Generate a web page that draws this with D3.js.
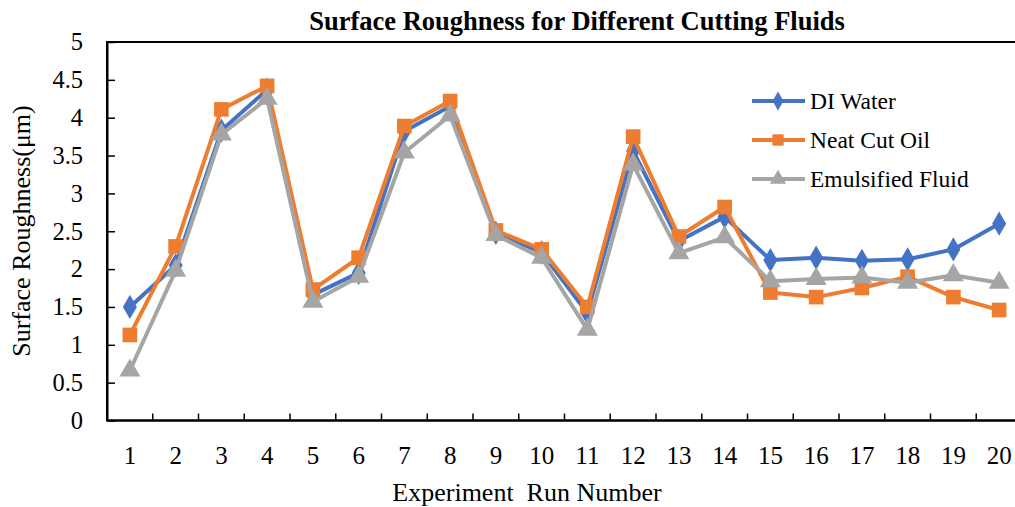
<!DOCTYPE html>
<html>
<head>
<meta charset="utf-8">
<script src="https://cdn.jsdelivr.net/npm/d3@7"></script>
<style>
  html, body { margin: 0; padding: 0; background: #fff; }
  svg { display: block; font-family: "Liberation Serif", "Times New Roman", serif; }
</style>
</head>
<body>
<svg id="chart" width="1015" height="507"></svg>
<script>
// Experiment runs 1..20
const runs = d3.range(1, 21).map(String);

// Surface roughness (µm) per cutting fluid
const diWater    = [1.50, 2.05, 3.83, 4.37, 1.66, 1.95, 3.82, 4.15, 2.48, 2.22, 1.42, 3.56, 2.37, 2.69, 2.12, 2.15, 2.11, 2.13, 2.26, 2.60];
const neatCutOil = [1.13, 2.30, 4.11, 4.42, 1.73, 2.15, 3.89, 4.22, 2.51, 2.26, 1.50, 3.75, 2.43, 2.82, 1.69, 1.63, 1.75, 1.90, 1.63, 1.46];
const emulsified = [0.66, 1.98, 3.78, 4.25, 1.57, 1.90, 3.54, 4.03, 2.45, 2.15, 1.20, 3.38, 2.21, 2.42, 1.84, 1.87, 1.89, 1.82, 1.92, 1.82];

const seriesNames = ["DI Water", "Neat Cut Oil", "Emulsified Fluid"];
const yTicks = [0, 0.5, 1, 1.5, 2, 2.5, 3, 3.5, 4, 4.5, 5];
const yTickLabels = ["0", "0.5", "1", "1.5", "2", "2.5", "3", "3.5", "4", "4.5", "5"];

const series = [
  { name: seriesNames[0], values: diWater,    color: "#4472C4", symbol: d3.symbolDiamond,  size: 170 },
  { name: seriesNames[1], values: neatCutOil, color: "#ED7D31", symbol: d3.symbolSquare,   size: 215 },
  { name: seriesNames[2], values: emulsified, color: "#A5A5A5", symbol: d3.symbolTriangle, size: 190 }
];

const svg = d3.select("#chart");
const plot = { left: 107, top: 42, right: 1022, bottom: 420.5 };

const x = d3.scaleBand().domain(runs).range([plot.left, plot.right]);
const y = d3.scaleLinear().domain([0, 5]).range([plot.bottom, plot.top]);

// Title
svg.append("text")
  .attr("x", 577).attr("y", 30)
  .attr("text-anchor", "middle")
  .attr("font-weight", "bold")
  .attr("font-size", 26.5)
  .text("Surface Roughness for Different Cutting Fluids");

// Plot frame (top edge runs off the right side)
svg.append("rect")
  .attr("x", plot.left).attr("y", plot.top)
  .attr("width", plot.right - plot.left).attr("height", plot.bottom - plot.top)
  .attr("fill", "none").attr("stroke", "#000").attr("stroke-width", 2);

// Y axis: ticks point inward
const yAxis = d3.axisLeft(y).tickValues(yTicks)
  .tickFormat((d, i) => yTickLabels[i]).tickSizeInner(-8).tickSizeOuter(0).tickPadding(24);
const gy = svg.append("g").attr("transform", `translate(${plot.left},0)`).call(yAxis);
gy.select(".domain").attr("stroke-width", 2);
gy.selectAll(".tick line").attr("stroke-width", 1.5);
gy.selectAll(".tick text").attr("font-size", 24.5).attr("font-family", "Liberation Serif").attr("fill", "#000");

// X axis: ticks between categories, pointing inward
const boundaries = runs.slice(1).map(r => x(r));
const gx = svg.append("g").attr("transform", `translate(0,${plot.bottom})`);
gx.append("line").attr("x1", plot.left).attr("x2", plot.right)
  .attr("stroke", "#000").attr("stroke-width", 2);
gx.selectAll("line.tk").data(boundaries).join("line").attr("class", "tk")
  .attr("x1", d => d).attr("x2", d => d).attr("y1", 0).attr("y2", -7)
  .attr("stroke", "#000").attr("stroke-width", 1.5);
gx.selectAll("text").data(runs).join("text")
  .attr("x", d => x(d) + x.bandwidth() / 2).attr("y", 43)
  .attr("text-anchor", "middle").attr("font-size", 25)
  .text(d => d);

// Axis titles
svg.append("text")
  .attr("x", 527).attr("y", 501)
  .attr("text-anchor", "middle").attr("font-size", 26)
  .text("Experiment  Run Number").attr("xml:space", "preserve").style("white-space", "pre");
svg.append("text")
  .attr("transform", "translate(30,231) rotate(-90)")
  .attr("text-anchor", "middle").attr("font-size", 26)
  .text("Surface Roughness(μm)");

// Series lines and markers
const cx = d => x(d) + x.bandwidth() / 2;
const line = d3.line().x((v, i) => cx(runs[i])).y(v => y(v));

series.forEach(s => {
  const g = svg.append("g");
  g.append("path").datum(s.values)
    .attr("d", line).attr("fill", "none")
    .attr("stroke", s.color).attr("stroke-width", 4).attr("stroke-linejoin", "round");
  g.selectAll("path.m").data(s.values).join("path").attr("class", "m")
    .attr("transform", (v, i) => `translate(${cx(runs[i])},${y(v)})`)
    .attr("d", d3.symbol().type(s.symbol).size(s.size))
    .attr("fill", s.color);
});

// Legend
const legend = svg.append("g");
series.forEach((s, i) => {
  const ly = 101 + i * 39;
  legend.append("line").attr("x1", 752).attr("x2", 805).attr("y1", ly).attr("y2", ly)
    .attr("stroke", s.color).attr("stroke-width", 4);
  legend.append("path").attr("transform", `translate(778,${ly})`)
    .attr("d", d3.symbol().type(s.symbol).size(s.size * 0.6)).attr("fill", s.color);
  legend.append("text").attr("x", 810).attr("y", ly + 8)
    .attr("font-size", 23.5).text(s.name);
});
</script>
</body>
</html>
